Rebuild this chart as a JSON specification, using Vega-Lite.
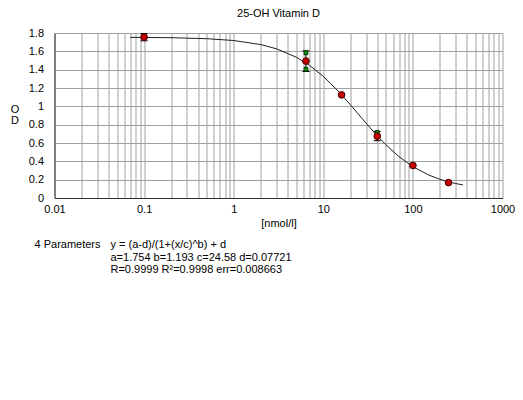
{
  "$schema": "https://vega.github.io/schema/vega-lite/v6.json",
  "background": "white",
  "padding": {"left": 9.5, "top": 8, "right": 0, "bottom": 0},
  "autosize": {"type": "pad"},
  "bounds": "flush",
  "spacing": 47,
  "config": {
    "font": "Liberation Sans",
    "view": {"stroke": null},
    "axis": {
      "labelFont": "Liberation Sans",
      "labelFontSize": 11,
      "labelColor": "black",
      "titleFont": "Liberation Sans",
      "titleFontSize": 11,
      "titleFontWeight": "normal",
      "titleColor": "black",
      "gridColor": "#a0a0a0",
      "gridOpacity": 1,
      "gridWidth": 1,
      "domainColor": "#303030",
      "ticks": false,
      "tickSize": 0
    },
    "title": {"font": "Liberation Sans", "fontSize": 11, "fontWeight": "normal", "color": "black"}
  },
  "datasets": {
    "curve": [
      {"conc": 0.07, "od": 1.7525},
      {"conc": 0.1, "od": 1.7517},
      {"conc": 0.2, "od": 1.7486},
      {"conc": 0.5, "od": 1.7381},
      {"conc": 1, "od": 1.718},
      {"conc": 2, "od": 1.6739},
      {"conc": 3, "od": 1.6279},
      {"conc": 5, "od": 1.5358},
      {"conc": 7, "od": 1.4477},
      {"conc": 10, "od": 1.3267},
      {"conc": 15, "od": 1.1556},
      {"conc": 20, "od": 1.0182},
      {"conc": 25, "od": 0.9071},
      {"conc": 30, "od": 0.8164},
      {"conc": 40, "od": 0.6787},
      {"conc": 50, "od": 0.5803},
      {"conc": 70, "od": 0.451},
      {"conc": 100, "od": 0.3419},
      {"conc": 150, "od": 0.2509},
      {"conc": 200, "od": 0.2043},
      {"conc": 250, "od": 0.1763},
      {"conc": 300, "od": 0.1579},
      {"conc": 363, "od": 0.1421}
    ],
    "points": [
      {"conc": 0.1, "od": 1.755},
      {"conc": 6.4, "od": 1.494},
      {"conc": 16, "od": 1.125},
      {"conc": 40, "od": 0.675},
      {"conc": 100, "od": 0.355},
      {"conc": 250, "od": 0.168}
    ],
    "errors": [
      {"conc": 0.1, "lo": 1.715, "hi": 1.795},
      {"conc": 6.4, "lo": 1.38, "hi": 1.605},
      {"conc": 40, "lo": 0.625, "hi": 0.725}
    ],
    "replicates": [
      {"conc": 6.4, "od": 1.584},
      {"conc": 6.4, "od": 1.405},
      {"conc": 40, "od": 0.715}
    ],
    "fit": [
      {"col": "label", "line": 1, "text": "4 Parameters"},
      {"col": "fit", "line": 1, "text": "y = (a-d)/(1+(x/c)^b) + d"},
      {"col": "fit", "line": 2, "text": "a=1.754  b=1.193  c=24.58  d=0.07721"},
      {"col": "fit", "line": 3, "text": "R=0.9999  R²=0.9998  err=0.008663"}
    ]
  },
  "vconcat": [
    {
      "width": 448,
      "height": 165,
      "title": {"text": "25-OH Vitamin D", "offset": 8, "anchor": "middle"},
      "encoding": {
        "x": {
          "field": "conc",
          "type": "quantitative",
          "scale": {"type": "log", "domain": [0.01, 1000]},
          "axis": {
            "title": "[nmol/l]",
            "values": [0.01, 0.02, 0.03, 0.04, 0.05, 0.06, 0.07, 0.08, 0.09,
                       0.1, 0.2, 0.3, 0.4, 0.5, 0.6, 0.7, 0.8, 0.9,
                       1, 2, 3, 4, 5, 6, 7, 8, 9,
                       10, 20, 30, 40, 50, 60, 70, 80, 90,
                       100, 200, 300, 400, 500, 600, 700, 800, 900, 1000],
            "format": "~g",
            "labelExpr": "indexof([0.01, 0.1, 1, 10, 100, 1000], datum.value) >= 0 ? datum.label : ''",
            "labelPadding": 5,
            "labelOverlap": false,
            "labelFlush": false,
            "titlePadding": 3
          }
        },
        "y": {
          "field": "od",
          "type": "quantitative",
          "scale": {"domain": [0, 1.8]},
          "axis": {
            "title": ["O", "D"],
            "values": [0, 0.2, 0.4, 0.6, 0.8, 1, 1.2, 1.4, 1.6, 1.8],
            "format": "~g",
            "labelPadding": 11,
            "labelFlush": false,
            "labelOverlap": false,
            "titleAngle": 0,
            "titleX": -40,
            "titleY": 76,
            "titleAlign": "center",
            "titleBaseline": "middle",
            "titleLineHeight": 11
          }
        }
      },
      "layer": [
        {
          "data": {"name": "curve"},
          "mark": {"type": "line", "color": "#202020", "strokeWidth": 1}
        },
        {
          "data": {"name": "errors"},
          "mark": {"type": "rule", "color": "black", "strokeWidth": 1},
          "encoding": {"y": {"field": "lo", "type": "quantitative"}, "y2": {"field": "hi"}}
        },
        {
          "data": {"name": "errors"},
          "mark": {"type": "tick", "orient": "horizontal", "color": "black", "size": 7, "thickness": 1, "opacity": 1},
          "encoding": {"y": {"field": "lo", "type": "quantitative"}}
        },
        {
          "data": {"name": "errors"},
          "mark": {"type": "tick", "orient": "horizontal", "color": "black", "size": 7, "thickness": 1, "opacity": 1},
          "encoding": {"y": {"field": "hi", "type": "quantitative"}}
        },
        {
          "data": {"name": "replicates"},
          "mark": {"type": "square", "filled": true, "color": "#00a000", "stroke": "#003000", "strokeWidth": 1, "size": 14, "opacity": 1}
        },
        {
          "data": {"name": "points"},
          "mark": {"type": "circle", "fill": "#c80000", "stroke": "#400000", "strokeWidth": 1, "size": 45, "opacity": 1}
        }
      ]
    },
    {
      "width": 448,
      "height": 25,
      "data": {"name": "fit"},
      "mark": {"type": "text", "align": "left", "baseline": "middle", "fontSize": 11, "font": "Liberation Sans", "color": "black"},
      "encoding": {
        "x": {"field": "col", "type": "nominal", "axis": null, "scale": {"type": "point", "padding": 0, "domain": ["label", "fit"], "range": [-20, 56]}},
        "y": {"field": "line", "type": "ordinal", "axis": null, "scale": {"type": "point", "padding": 0}},
        "text": {"field": "text"}
      }
    }
  ]
}
